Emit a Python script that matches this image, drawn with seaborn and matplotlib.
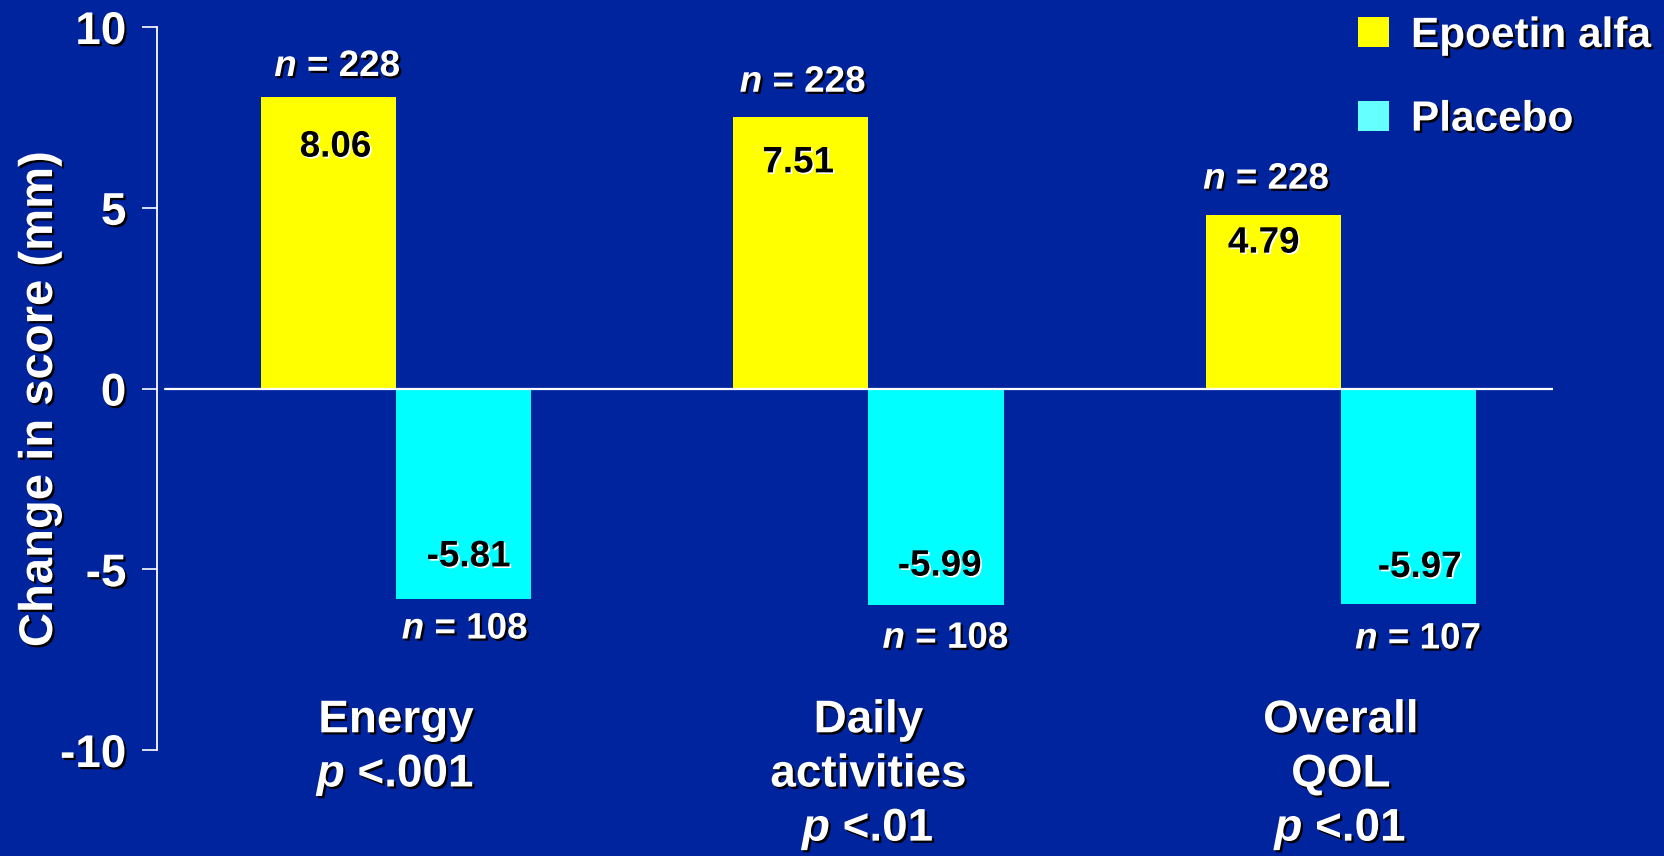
import matplotlib
matplotlib.use("Agg")
import matplotlib.pyplot as plt
import matplotlib.patheffects as pe
from matplotlib.patches import Patch
import seaborn as sns
import pandas as pd

# ---------------- data ----------------
categories = ["Energy", "Daily activities", "Overall QOL"]
category_labels = ["Energy\n$p$ <.001", "Daily\nactivities\n$p$ <.01", "Overall\nQOL\n$p$ <.01"]
groups = ["Epoetin alfa", "Placebo"]
epoetin_values = [8.06, 7.51, 4.79]
placebo_values = [-5.81, -5.99, -5.97]
epoetin_n = [228, 228, 228]
placebo_n = [108, 108, 107]
y_ticks = [10, 5, 0, -5, -10]
y_tick_labels = ["10", "5", "0", "-5", "-10"]

# label offsets (points) relative to bar end
epo_val_off = [(5, -36), (-2, -33), (-7, -20)]
epo_n_off = [(6.5, 22), (1.5, 25), (-5, 26)]
pla_val_off = [(3.5, 30), (2.5, 28), (8, 26.5)]
pla_n_off = [(1, -22), (7, -24), (7, -25)]

BG = "#00249E"
YELLOW = "#FFFF00"
CYAN = "#00FFFF"
CYAN_LEG = "#66FFFF"

df = pd.DataFrame({
    "category": categories * 2,
    "group": [groups[0]] * 3 + [groups[1]] * 3,
    "value": epoetin_values + placebo_values,
})

sns.set_style("ticks")
plt.rcParams["font.family"] = ["Liberation Sans", "DejaVu Sans"]
plt.rcParams["font.weight"] = "bold"
plt.rcParams["mathtext.fontset"] = "custom"
plt.rcParams["mathtext.rm"] = "Liberation Sans:bold"
plt.rcParams["mathtext.it"] = "Liberation Sans:italic:bold"
plt.rcParams["mathtext.bf"] = "Liberation Sans:bold"
plt.rcParams["axes.unicode_minus"] = False

fig = plt.figure(figsize=(16.65, 8.56), dpi=100, facecolor=BG)
ax = fig.add_axes([157 / 1665, 1 - 750 / 856, (1553 - 157) / 1665, (750 - 27) / 856])
ax.set_facecolor(BG)

sns.barplot(data=df, x="category", y="value", hue="group", order=categories,
            hue_order=groups, palette={groups[0]: YELLOW, groups[1]: CYAN},
            width=0.572, gap=0, saturation=1, legend=False, ax=ax,
            edgecolor="none", linewidth=0, errorbar=None)

ax.set_xlim(-0.506, 2.449)
ax.set_ylim(-10, 10)
ax.axhline(0, xmin=8 / 1396, xmax=1, color="white", lw=1.6, zorder=3)

for s in ["top", "right", "bottom"]:
    ax.spines[s].set_visible(False)
ax.spines["left"].set_color("white")
ax.spines["left"].set_linewidth(1.3)

shadow_w = [pe.withSimplePatchShadow(offset=(1.6, -1.6), shadow_rgbFace="black", alpha=1.0)]
shadow_b = [pe.withSimplePatchShadow(offset=(1.2, -1.2), shadow_rgbFace="white", alpha=1.0)]

ax.set_yticks(y_ticks)
ax.set_yticklabels(y_tick_labels)
ax.tick_params(axis="y", direction="out", length=11, width=1.2, color="white",
               pad=11, labelsize=33, labelcolor="white")
for t in ax.get_yticklabels():
    t.set_fontweight("bold")
    t.set_path_effects(shadow_w)
ax.tick_params(axis="x", bottom=False, labelbottom=False)
ax.set_xlabel("")
ax.set_ylabel("")

fig.text(40 / 1665, 1 - 399 / 856, "Change in score (mm)", rotation=90,
         ha="center", va="center", color="white", fontsize=34,
         fontweight="bold", path_effects=shadow_w)

# category labels
for i, lab in enumerate(category_labels):
    ax.text(i, -8.57, lab, ha="center", va="top", color="white", fontsize=33,
            fontweight="bold", linespacing=1.3, path_effects=shadow_w)

# bar annotations
epo_bars = ax.containers[0]
pla_bars = ax.containers[1]
for i, bar in enumerate(epo_bars):
    xc = bar.get_x() + bar.get_width() / 2
    top = bar.get_height()
    ax.annotate(f"{epoetin_values[i]:.2f}", xy=(xc, top), xytext=epo_val_off[i],
                textcoords="offset points", ha="center", va="center",
                color="black", fontsize=26.5, fontweight="bold", path_effects=shadow_b)
    ax.annotate(f"$n$ = {epoetin_n[i]}", xy=(xc, top), xytext=epo_n_off[i],
                textcoords="offset points", ha="center", va="center",
                color="white", fontsize=26.5, fontweight="bold", path_effects=shadow_w)
for i, bar in enumerate(pla_bars):
    xc = bar.get_x() + bar.get_width() / 2
    bot = bar.get_y() + bar.get_height()
    ax.annotate(f"{placebo_values[i]:.2f}", xy=(xc, bot), xytext=pla_val_off[i],
                textcoords="offset points", ha="center", va="center",
                color="black", fontsize=26.5, fontweight="bold", path_effects=shadow_b)
    ax.annotate(f"$n$ = {placebo_n[i]}", xy=(xc, bot), xytext=pla_n_off[i],
                textcoords="offset points", ha="center", va="center",
                color="white", fontsize=26.5, fontweight="bold", path_effects=shadow_w)

# legend
handles = [Patch(facecolor=YELLOW, edgecolor="none"), Patch(facecolor=CYAN_LEG, edgecolor="none")]
leg = ax.legend(handles, groups, loc="upper left", bbox_to_anchor=(1358 / 1665, 1 - 16 / 856),
                bbox_transform=fig.transFigure, frameon=False, fontsize=30.5,
                handlelength=0.73, handleheight=0.73, handletextpad=0.52,
                labelspacing=1.03, borderpad=0, borderaxespad=0)
for t in leg.get_texts():
    t.set_color("white")
    t.set_fontweight("bold")
    t.set_path_effects(shadow_w)

fig.savefig("out.png", dpi=100, facecolor=BG)
